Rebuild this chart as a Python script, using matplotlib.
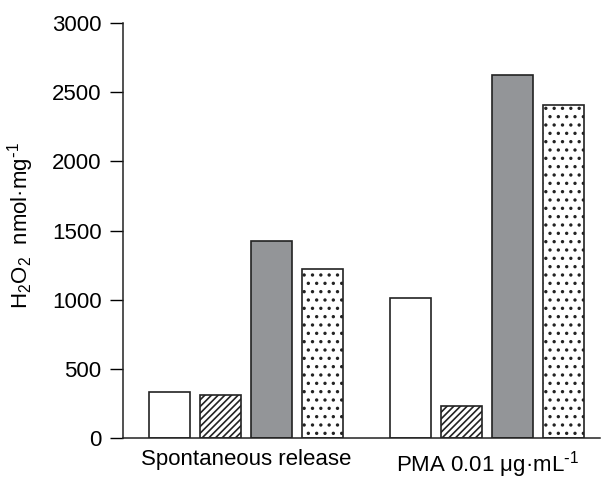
import matplotlib
matplotlib.use("Agg")
import matplotlib.pyplot as plt
import numpy as np

plt.rcParams['font.family'] = ['Liberation Sans', 'DejaVu Sans']
plt.rcParams['mathtext.default'] = 'regular'
plt.rcParams['hatch.linewidth'] = 1.2

groups = ["Spontaneous release", "PMA 0.01 \u03bcg\u00b7mL$^{\\text{-}1}$"]
series_a = [333, 1012]   # white
series_b = [311, 231]    # hatched
series_c = [1424, 2625]  # grey
series_d = [1222, 2408]  # dotted
yticks = [0, 500, 1000, 1500, 2000, 2500, 3000]

fig = plt.figure(figsize=(6.05, 4.8), dpi=100)
ax = fig.add_axes([0.2033, 0.0875, 0.7887, 0.8645])

x = np.arange(len(groups))
step = 0.2116
w = 0.170
styles = [
    dict(facecolor='white', hatch=None),
    dict(facecolor='white', hatch='/////'),
    dict(facecolor='#939598', hatch=None),
    dict(facecolor='white', hatch='..'),
]
for i, (vals, st) in enumerate(zip([series_a, series_b, series_c, series_d], styles)):
    ax.bar(x + (i - 1.5) * step, vals, width=w, edgecolor='#222222', linewidth=1.2,
           **st)

ax.set_xlim(-0.510, 1.469)
ax.set_ylim(0, 3000)
ax.set_yticks(yticks)
ax.set_xticks(x)
ax.set_xticklabels(groups, fontsize=16)
ax.tick_params(axis='x', length=0, pad=8)
ax.tick_params(axis='y', length=9.5, width=1, direction='out', labelsize=16, pad=6)
for s in ['top', 'right']:
    ax.spines[s].set_visible(False)
for s in ['left', 'bottom']:
    ax.spines[s].set_linewidth(1.1)
    ax.spines[s].set_color('#222222')
ax.set_ylabel("H$_2$O$_2$  nmol\u00b7mg$^{\\text{-}1}$", fontsize=16)
ax.yaxis.set_label_coords(-0.182, 0.513)

fig.savefig("out.png", dpi=100)
